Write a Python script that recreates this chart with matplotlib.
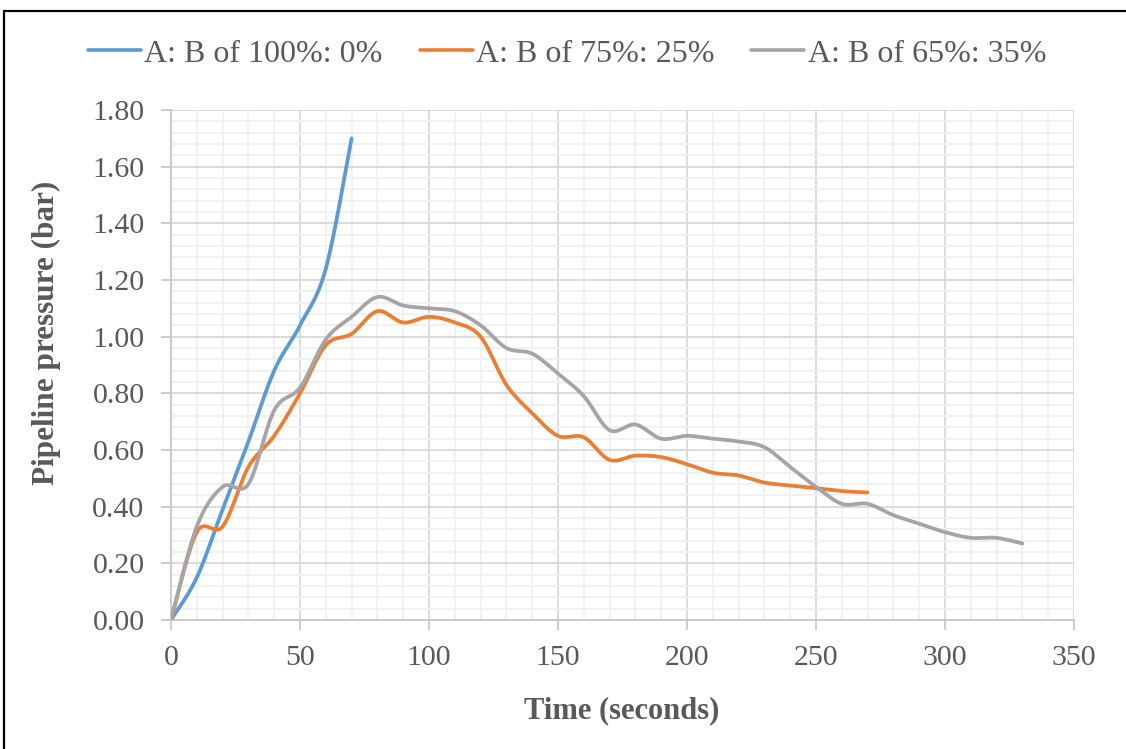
import numpy as np
import matplotlib
matplotlib.use("Agg")
import matplotlib.pyplot as plt
from matplotlib.patches import Rectangle
from matplotlib.ticker import MultipleLocator, FormatStrFormatter

# Pipeline pressure readings (bar), sampled every 10 seconds
t_a = [0, 10, 20, 30, 40, 50, 60, 70]
p_a = [0.00, 0.15, 0.39, 0.63, 0.88, 1.04, 1.24, 1.70]

t_b = [0, 10, 20, 30, 40, 50, 60, 70, 80, 90, 100, 110, 120, 130, 140, 150,
       160, 170, 180, 190, 200, 210, 220, 230, 240, 250, 260, 270]
p_b = [0.00, 0.31, 0.33, 0.54, 0.65, 0.80, 0.97, 1.01, 1.09, 1.05, 1.07, 1.05,
       1.00, 0.83, 0.73, 0.65, 0.645, 0.565, 0.58, 0.575, 0.55, 0.52, 0.51,
       0.485, 0.475, 0.465, 0.455, 0.45]

t_c = [0, 10, 20, 30, 40, 50, 60, 70, 80, 90, 100, 110, 120, 130, 140, 150,
       160, 170, 180, 190, 200, 210, 220, 230, 240, 250, 260, 270, 280, 290,
       300, 310, 320, 330]
p_c = [0.00, 0.33, 0.47, 0.48, 0.74, 0.82, 0.99, 1.07, 1.14, 1.11, 1.10, 1.09,
       1.04, 0.96, 0.94, 0.87, 0.79, 0.67, 0.69, 0.64, 0.65, 0.64, 0.63, 0.61,
       0.54, 0.47, 0.41, 0.41, 0.37, 0.34, 0.31, 0.29, 0.29, 0.27]

labels = ["A: B of 100%: 0%", "A: B of 75%: 25%", "A: B of 65%: 35%"]
colors = ["#5B9BD5", "#ED7D31", "#A5A5A5"]


def smooth(x, y, n=30):
    """Bezier smoothing through every point (Catmull-Rom style tangents)."""
    x = np.asarray(x, float)
    y = np.asarray(y, float)
    px = np.concatenate([[x[0]], x, [x[-1]]])
    py = np.concatenate([[y[0]], y, [y[-1]]])
    xs, ys = [], []
    s = np.linspace(0, 1, n)
    for i in range(1, len(px) - 2):
        p0 = np.array([px[i], py[i]])
        p3 = np.array([px[i + 1], py[i + 1]])
        c1 = p0 + (np.array([px[i + 1], py[i + 1]]) - np.array([px[i - 1], py[i - 1]])) / 6
        c2 = p3 - (np.array([px[i + 2], py[i + 2]]) - np.array([px[i], py[i]])) / 6
        b = ((1 - s) ** 3)[:, None] * p0 + (3 * (1 - s) ** 2 * s)[:, None] * c1 \
            + (3 * (1 - s) * s ** 2)[:, None] * c2 + (s ** 3)[:, None] * p3
        xs.append(b[:, 0])
        ys.append(b[:, 1])
    return np.concatenate(xs), np.concatenate(ys)


plt.rcParams["font.family"] = ["Liberation Serif", "DejaVu Serif"]
TEXT = "#595959"

fig = plt.figure(figsize=(11.26, 7.49), dpi=100)
W, H = 1126, 749
ax = fig.add_axes([171 / W, (H - 620) / H, (1074 - 171) / W, (620 - 110) / H])

for (tx, py), lab, col in zip([(t_a, p_a), (t_b, p_b), (t_c, p_c)], labels, colors):
    sx, sy = smooth(tx, py)
    ax.plot(sx, sy, color=col, lw=2.7, label=lab, solid_capstyle="round", zorder=3)

ax.set_xlim(0, 350)
ax.set_ylim(0, 1.8)
ax.xaxis.set_major_locator(MultipleLocator(50))
ax.xaxis.set_minor_locator(MultipleLocator(10))
ax.yaxis.set_major_locator(MultipleLocator(0.2))
ax.yaxis.set_minor_locator(MultipleLocator(0.04))
ax.yaxis.set_major_formatter(FormatStrFormatter("%.2f"))

ax.grid(which="major", color="#D9D9D9", lw=1.3, zorder=1)
ax.grid(which="minor", color="#F0F0F0", lw=1.3, zorder=0)
ax.set_axisbelow(True)

for side in ["top", "right"]:
    ax.spines[side].set_visible(False)
for side in ["left", "bottom"]:
    ax.spines[side].set_color("#C8C8C8")
    ax.spines[side].set_linewidth(1.3)

ax.tick_params(which="major", direction="out", length=7, width=1.3,
               color="#C8C8C8", labelsize=21.5, labelcolor=TEXT)
ax.tick_params(axis="x", which="major", pad=11)
ax.tick_params(axis="y", which="major", pad=12)
ax.tick_params(which="minor", length=0)

fig.text(622 / W, 1 - 711 / H, "Time (seconds)", ha="center", va="center",
         fontsize=22, fontweight="bold", color=TEXT)
fig.text(46 / W, 1 - 333 / H, "Pipeline pressure (bar)", ha="center",
         va="center", rotation=90, fontsize=22.5, fontweight="bold", color=TEXT)

leg = fig.legend(loc="center", bbox_to_anchor=(567 / W, 1 - 54 / H), ncol=3,
                 frameon=False, fontsize=23, labelcolor=TEXT,
                 handlelength=1.66, handletextpad=0.1, columnspacing=1.16)
for h in leg.get_lines():
    h.set_linewidth(2.6)

# outer chart border
fig.patches.append(Rectangle((4 / W, -0.05), 1.2, (H - 11) / H + 0.05,
                             transform=fig.transFigure, fill=False,
                             edgecolor="black", lw=1.6, zorder=10))

fig.savefig("out.png", dpi=100)
